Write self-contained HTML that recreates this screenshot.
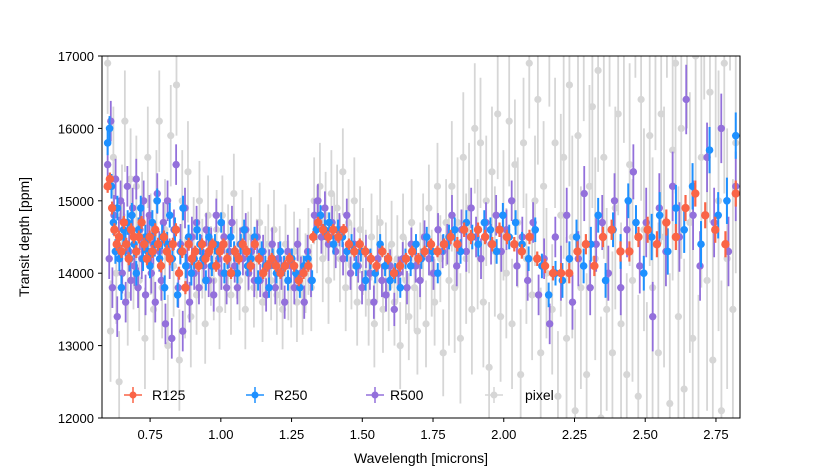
<!DOCTYPE html>
<html><head><meta charset="utf-8">
<style>
html,body{margin:0;padding:0;background:#fff;width:822px;height:470px;overflow:hidden;}
svg{display:block;font-family:"Liberation Sans","DejaVu Sans",sans-serif;}
</style></head>
<body>
<svg id="chart" width="822" height="470" viewBox="0 0 822 470" xmlns="http://www.w3.org/2000/svg">
<defs><clipPath id="plotclip"><rect x="102" y="56" width="638" height="362"/></clipPath></defs>
<rect x="0" y="0" width="822" height="470" fill="#fff"/>
<g id="marks" clip-path="url(#plotclip)"></g>
<rect x="102" y="56" width="638" height="362" fill="none" stroke="#000" stroke-width="1"/>
<g id="xticks"></g>
<g id="yticks"></g>
<text x="421" y="463" text-anchor="middle" font-size="14">Wavelength [microns]</text>
<text transform="translate(29,237) rotate(-90)" text-anchor="middle" font-size="14">Transit depth [ppm]</text>
<g id="legend"></g>
</svg>
<script>
const xTicks=[0.75,1.00,1.25,1.50,1.75,2.00,2.25,2.50,2.75];
const yTicks=[12000,13000,14000,15000,16000,17000];
const seriesNames=["pixel","R500","R250","R125"];
const seriesColors=["#d6d6d6","#9370db","#1e90ff","#fa6446"];
const errEdges=[0.6,0.9,1.3,1.8,2.2,2.5];
const r125Err=[90,80,80,100,140,180];
const r250Err=[170,140,140,170,240,320];
const r500Err=[280,230,230,280,380,480];
const pixelErr=[700,550,600,900,1400,1800];
const waveMin=0.6, waveMax=2.82;
// depths in units of 10 ppm
const r125Depth=[1520,1530,1490,1460,1440,1450,1430,1470,1440,1420,1460,1450,
1430,1450,1470,1440,1420,1450,1430,1460,1440,1410,1450,
1430,1420,1440,1460,1400,1430,1380,1440,1420,
1430,1410,1440,1420,1430,1440,1410,1430,
1440,1420,1400,1430,1420,1440,1430,1410,
1440,1420,1400,1410,1420,1410,
1400,1410,1420,1410,1390,1400,
1410,1450,1470,1460,1450,1460,
1450,1460,1440,1430,1440,
1430,1420,1410,1430,1420,
1400,1410,1420,1430,1420,
1430,1440,1430,1440,
1450,1440,1460,1450,
1460,1450,1440,1460,
1450,1440,1430,1450,
1420,1410,1400,1400,
1400,1430,1440,
1410,1450,1460,
1430,1430,1450,
1460,1440,1470,
1450,1490,1510,
1480,1460,1440,1510];
const r250Depth=[1580,1600,1520,1470,1430,1490,1420,1380,1460,1440,
1470,1420,1480,1440,1400,1460,1490,1420,1450,1430,
1410,1470,1440,1500,1420,1450,1380,1440,1480,1420,
1460,1370,1430,1490,1410,1450,1400,1420,1460,1440,
1420,1390,1450,1410,1440,1430,1470,1400,1420,1450,
1430,1400,1440,1460,1410,1420,1450,1390,1430,1410,
1380,1420,1400,1430,1410,1390,1420,1400,1380,1410,
1420,1390,1460,1480,1460,1470,1440,1460,1450,1430,
1440,1410,1430,1390,1420,1400,1440,1410,1390,1400,
1380,1420,1410,1440,1420,1450,1430,1400,1440,1450,
1460,1430,1470,1450,1440,1470,1460,1430,1480,1450,
1470,1440,1420,1460,1410,1370,1400,1390,1420,1450,
1410,1440,1480,1390,1460,1430,1500,1470,1400,1450,
1480,1430,1490,1460,1520,1440,1570,1480,1500,1590];
const r500Depth=[1550,1420,1610,1380,1480,1530,1340,1450,1500,1400,
1470,1360,1520,1430,1390,1490,1410,1530,1380,1460,
1420,1500,1370,1450,1480,1400,1440,1360,1510,1430,
1390,1470,1330,1500,1420,1310,1460,1550,1380,1440,
1320,1490,1410,1360,1450,1400,1470,1380,1430,1410,
1460,1390,1440,1370,1480,1420,1400,1450,1380,1430,
1470,1410,1380,1440,1420,1460,1400,1430,1390,1450,
1390,1430,1370,1410,1440,1380,1420,1400,1360,1430,
1410,1380,1440,1400,1360,1430,1390,1480,1500,1450,
1490,1440,1470,1430,1460,1420,1480,1400,1440,1410,
1380,1430,1400,1360,1420,1390,1370,1410,1350,1400,
1420,1380,1440,1410,1390,1450,1420,1400,1460,1430,
1440,1480,1410,1460,1430,1490,1450,1420,1470,1440,
1480,1430,1460,1500,1410,1450,1390,1470,1370,1420,
1330,1450,1400,1480,1360,1420,1510,1380,1440,1470,
1400,1500,1380,1460,1540,1410,1470,1340,1490,1430,
1520,1450,1640,1480,1410,1560,1470,1600,1430,1520];
const pixelDepth=[1690,1320,1560,1400,1250,1480,1610,1370,1530,1420,
1520,1390,1470,1310,1560,1440,1350,1500,1610,1380,
1460,1300,1590,1410,1660,1280,1500,1380,1540,1340,
1450,1370,1500,1420,1330,1480,1410,1390,1460,1350,
1480,1400,1440,1370,1510,1420,1390,1460,1350,1430,
1450,1380,1420,1470,1360,1410,1440,1390,1460,1370,
1410,1350,1440,1390,1380,1430,1360,1420,1370,1400,
1430,1380,1500,1460,1520,1420,1480,1390,1510,1450,
1490,1420,1540,1380,1470,1410,1500,1360,1460,1430,
1400,1360,1450,1330,1420,1470,1350,1410,1380,1440,
1360,1420,1300,1450,1390,1340,1470,1380,1320,1410,
1450,1330,1490,1400,1360,1520,1420,1290,1470,1390,
1520,1380,1470,1310,1560,1420,1490,1350,1600,1440,
1580,1360,1500,1270,1540,1430,1620,1340,1480,1400,
1610,1330,1550,1470,1260,1580,1420,1690,1370,1500,
1640,1290,1520,1400,1720,1350,1580,1230,1480,1560,
1310,1660,1450,1210,1590,1380,1750,1260,1520,1630,
1420,1680,1200,1560,1350,1770,1290,1490,1620,1330,
1720,1260,1550,1390,1810,1230,1640,1460,1180,1590,
1380,1750,1290,1620,1450,1850,1220,1570,1690,1340,
1600,1240,1780,1470,1310,1700,1190,1560,1820,1390,
1650,1280,1740,1500,1210,1690,1420,1860,1350,1580];

const NS="http://www.w3.org/2000/svg";
const X0=102,X1=740,Y0=418,Y1=56,XMIN=0.58,XMAX=2.835,YMIN=12000,YMAX=17000;
function xs(v){return X0+(v-XMIN)/(XMAX-XMIN)*(X1-X0);}
function ys(v){return Y0-(v-YMIN)/(YMAX-YMIN)*(Y0-Y1);}
function errAt(arr,w){let k=0;for(let i=0;i<errEdges.length;i++){if(w>=errEdges[i])k=i;}return arr[k];}
function geoWave(i,n){return waveMin*Math.pow(waveMax/waveMin,i/(n-1));}
function linWave(i,n){return waveMin+(waveMax-waveMin)*i/(n-1);}

const marks=document.getElementById('marks');
function drawSeries(depths,errs,waveFn,color,name,r,lw){
  const g=document.createElementNS(NS,'g');
  
  
  const n=depths.length;
  for(let i=0;i<n;i++){
    const w=waveFn(i,n),d=depths[i]*10,e=errAt(errs,w);
    const x=xs(w);
    const ln=document.createElementNS(NS,'line');
    ln.setAttribute('x1',x);ln.setAttribute('x2',x);
    ln.setAttribute('y1',ys(d-e));ln.setAttribute('y2',ys(d+e));
    ln.setAttribute('stroke',color);ln.setAttribute('stroke-width',lw);
    
    
    g.appendChild(ln);
  }
  for(let i=0;i<n;i++){
    const w=waveFn(i,n),d=depths[i]*10;
    const c=document.createElementNS(NS,'circle');
    c.setAttribute('cx',xs(w));c.setAttribute('cy',ys(d));c.setAttribute('r',r);
    c.setAttribute('fill',color);
    
    
    g.appendChild(c);
  }
  marks.appendChild(g);
}
drawSeries(pixelDepth,pixelErr,linWave,seriesColors[0],'pixel',3.6,1.8);
drawSeries(r500Depth,r500Err,geoWave,seriesColors[1],'r500',3.7,1.8);
drawSeries(r250Depth,r250Err,geoWave,seriesColors[2],'r250',3.8,2);
drawSeries(r125Depth,r125Err,geoWave,seriesColors[3],'r125',4.2,2.2);

const xg=document.getElementById('xticks');
xTicks.forEach(t=>{
  const x=xs(t);
  const l=document.createElementNS(NS,'line');
  l.setAttribute('x1',x);l.setAttribute('x2',x);l.setAttribute('y1',418);l.setAttribute('y2',422);
  l.setAttribute('stroke','#000');
  
  
  xg.appendChild(l);
  const tx=document.createElementNS(NS,'text');
  tx.setAttribute('x',x);tx.setAttribute('y',439);tx.setAttribute('text-anchor','middle');tx.setAttribute('font-size','13');
  tx.textContent=t.toFixed(2);
  
  
  xg.appendChild(tx);
});
const yg=document.getElementById('yticks');
yTicks.forEach(t=>{
  const y=ys(t);
  const l=document.createElementNS(NS,'line');
  l.setAttribute('x1',98);l.setAttribute('x2',102);l.setAttribute('y1',y);l.setAttribute('y2',y);
  l.setAttribute('stroke','#000');
  
  
  yg.appendChild(l);
  const tx=document.createElementNS(NS,'text');
  tx.setAttribute('x',94);tx.setAttribute('y',y+5);tx.setAttribute('text-anchor','end');tx.setAttribute('font-size','13');
  tx.textContent=String(t);
  
  
  yg.appendChild(tx);
});

const lg=document.getElementById('legend');
const legendOrder=["R125","R250","R500","pixel"];
const legendColors=["#fa6446","#1e90ff","#9370db","#d6d6d6"];
const legendMarkerX=[133,255,375,494];
const legendTextX=[152,274,390,525];
legendOrder.forEach((nm,i)=>{
  const e=document.createElementNS(NS,'g');
  
  
  const mx=legendMarkerX[i],my=395;
  const h=document.createElementNS(NS,'line');
  h.setAttribute('x1',mx-9);h.setAttribute('x2',mx+9);h.setAttribute('y1',my);h.setAttribute('y2',my);
  h.setAttribute('stroke',legendColors[i]);h.setAttribute('stroke-width',1.5);
  e.appendChild(h);
  const v=document.createElementNS(NS,'line');
  v.setAttribute('x1',mx);v.setAttribute('x2',mx);v.setAttribute('y1',my-8);v.setAttribute('y2',my+8);
  v.setAttribute('stroke',legendColors[i]);v.setAttribute('stroke-width',1.5);
  e.appendChild(v);
  const c=document.createElementNS(NS,'circle');
  c.setAttribute('cx',mx);c.setAttribute('cy',my);c.setAttribute('r',3.5);c.setAttribute('fill',legendColors[i]);
  e.appendChild(c);
  const t=document.createElementNS(NS,'text');
  t.setAttribute('x',legendTextX[i]);t.setAttribute('y',my+5);t.setAttribute('font-size','14');
  t.textContent=nm;
  e.appendChild(t);
  lg.appendChild(e);
});
</script>
</body></html>
